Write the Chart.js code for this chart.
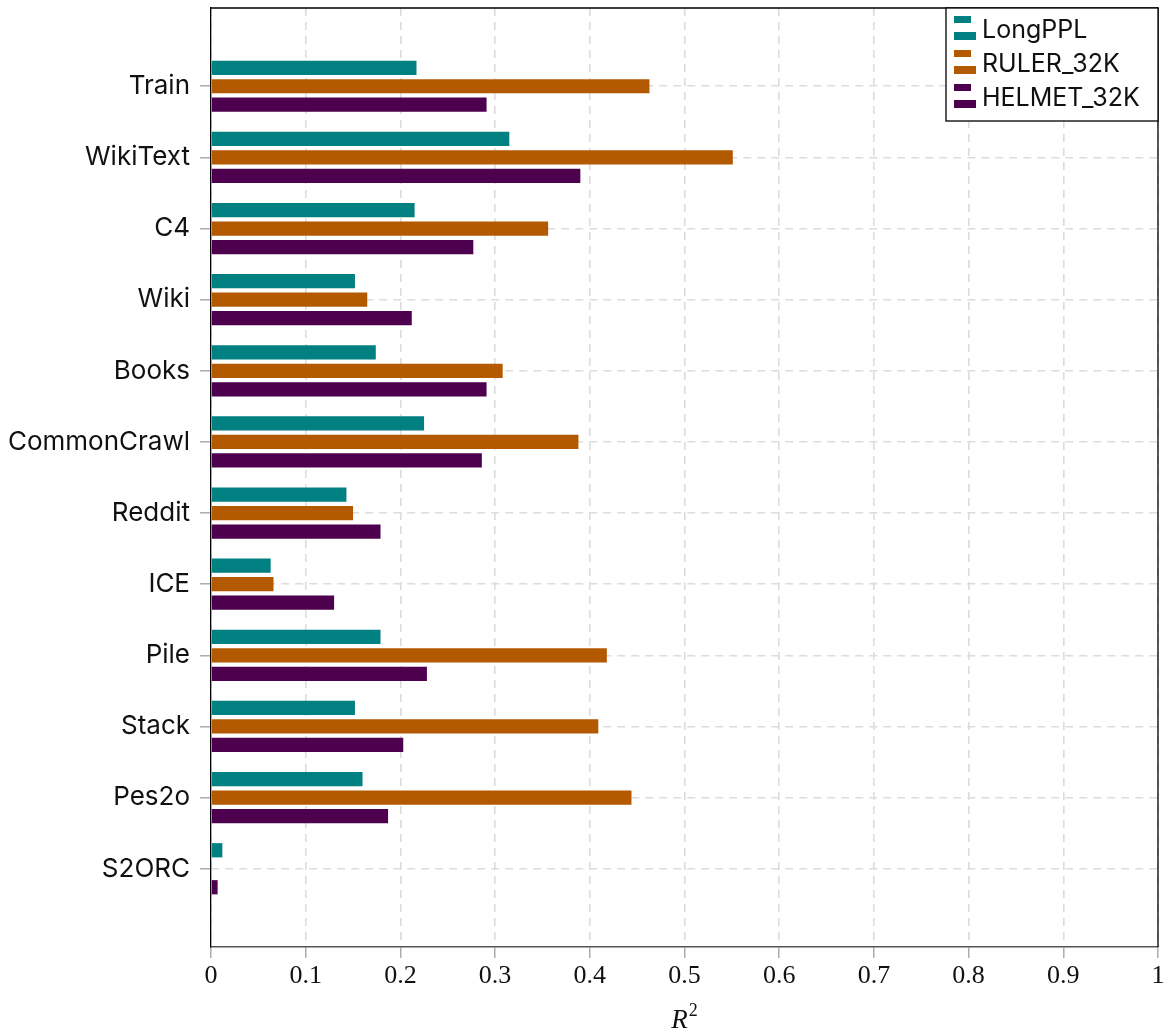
<!DOCTYPE html>
<html>
<head>
<meta charset="utf-8">
<script src="https://cdn.jsdelivr.net/npm/chart.js@4.4.0/dist/chart.umd.min.js"></script>
<style>
  html, body { margin: 0; padding: 0; background: #fff; }
  #wrap { width: 1169px; height: 1036px; }
</style>
</head>
<body>
<div id="wrap"><canvas id="chart" width="1169" height="1036"></canvas></div>
<script>
// data
var categories = ['Train', 'WikiText', 'C4', 'Wiki', 'Books', 'CommonCrawl', 'Reddit', 'ICE', 'Pile', 'Stack', 'Pes2o', 'S2ORC'];
var longPPL = [0.217, 0.315, 0.215, 0.152, 0.174, 0.225, 0.143, 0.063, 0.179, 0.152, 0.160, 0.012];
var ruler32k = [0.463, 0.551, 0.356, 0.165, 0.308, 0.388, 0.150, 0.066, 0.418, 0.409, 0.444, 0.0];
var helmet32k = [0.291, 0.390, 0.277, 0.212, 0.291, 0.286, 0.179, 0.130, 0.228, 0.203, 0.187, 0.007];
var seriesNames = ['LongPPL', 'RULER_32K', 'HELMET_32K'];
var xTicks = [0, 0.1, 0.2, 0.3, 0.4, 0.5, 0.6, 0.7, 0.8, 0.9, 1];

var colors = ['#008080', '#b35900', '#4d004d'];

// {x: 값, y: 카테고리 인덱스}
function toPoints(arr) {
  return arr.map(function (v, i) { return { x: v, y: i }; });
}

// 프레임(위, 오른쪽 테두리)
var framePlugin = {
  id: 'frame',
  afterDatasetsDraw: function (chart) {
    var a = chart.chartArea, ctx = chart.ctx;
    ctx.save();
    ctx.strokeStyle = '#000';
    ctx.lineWidth = 1.3;
    ctx.beginPath();
    ctx.moveTo(a.left, a.top);
    ctx.lineTo(a.right, a.top);
    ctx.lineTo(a.right, a.bottom);
    ctx.stroke();
    ctx.restore();
  }
};

// 범례 (차트 안쪽 오른쪽 위)
var legendPlugin = {
  id: 'innerLegend',
  afterDraw: function (chart) {
    var a = chart.chartArea, ctx = chart.ctx;
    var w = 212, h = 113;
    var x0 = a.right - w, y0 = a.top;
    ctx.save();
    ctx.fillStyle = '#fff';
    ctx.fillRect(x0, y0, w, h);
    ctx.strokeStyle = '#000';
    ctx.lineWidth = 1.3;
    ctx.strokeRect(x0, y0, w, h);
    ctx.font = '25px Inter';
    ctx.textBaseline = 'alphabetic';
    seriesNames.forEach(function (name, i) {
      var by = y0 + 8 + i * 34;
      ctx.fillStyle = colors[i];
      ctx.fillRect(x0 + 8, by, 17, 7);
      ctx.fillRect(x0 + 8, by + 16, 22, 8);
      ctx.fillStyle = '#111';
      ctx.fillText(name, x0 + 36, by + 22);
    });
    ctx.restore();
  }
};

// x축 제목 R^2
var xTitlePlugin = {
  id: 'xTitle',
  afterDraw: function (chart) {
    var a = chart.chartArea, ctx = chart.ctx;
    var cx = (a.left + a.right) / 2;
    ctx.save();
    ctx.fillStyle = '#111';
    ctx.textBaseline = 'alphabetic';
    ctx.font = 'italic 27px "Liberation Serif"';
    var wR = ctx.measureText('R').width;
    ctx.font = '18px "Liberation Serif"';
    var w2 = ctx.measureText('2').width;
    var x = cx - (wR + w2 + 1) / 2;
    ctx.font = 'italic 27px "Liberation Serif"';
    ctx.fillText('R', x, 1028);
    ctx.font = '18px "Liberation Serif"';
    ctx.fillText('2', x + wR + 1, 1016);
    ctx.restore();
  }
};

var ctx = document.getElementById('chart').getContext('2d');
new Chart(ctx, {
  type: 'bar',
  data: {
    datasets: [
      { label: seriesNames[0], data: toPoints(longPPL), backgroundColor: colors[0] },
      { label: seriesNames[1], data: toPoints(ruler32k), backgroundColor: colors[1] },
      { label: seriesNames[2], data: toPoints(helmet32k), backgroundColor: colors[2] }
    ]
  },
  options: {
    indexAxis: 'y',
    responsive: false,
    animation: false,
    devicePixelRatio: 1,
    categoryPercentage: 0.78,
    barPercentage: 0.77,
    layout: { padding: { top: 8, right: 11, left: 0, bottom: 0 } },
    plugins: {
      legend: { display: false },
      tooltip: { enabled: false }
    },
    scales: {
      x: {
        type: 'linear',
        min: 0,
        max: 1,
        afterBuildTicks: function (scale) {
          scale.ticks = xTicks.map(function (v) { return { value: v }; });
        },
        afterFit: function (scale) {
          scale.height = 89;
          scale.paddingLeft = 0;
          scale.paddingRight = 0;
        },
        ticks: {
          font: { family: 'Liberation Serif', size: 26 },
          color: '#111',
          padding: 3,
          maxRotation: 0,
          callback: function (v) {
            var r = Math.round(v * 10) / 10;
            return (r === 0 || r === 1) ? String(r) : r.toFixed(1);
          }
        },
        grid: {
          color: '#dcdcdc',
          lineWidth: 1.6,
          tickLength: 11,
          tickColor: '#a0a0a0',
          tickWidth: 1.3,
          tickBorderDash: []
        },
        border: { display: true, color: '#555', width: 1.5, dash: [8, 6] }
      },
      y: {
        type: 'linear',
        reverse: true,
        offset: false,
        min: -1.1,
        max: 12.1,
        afterBuildTicks: function (scale) {
          scale.ticks = categories.map(function (c, i) { return { value: i }; });
        },
        afterFit: function (scale) {
          scale.width = 211;
          scale.paddingTop = 0;
          scale.paddingBottom = 0;
        },
        ticks: {
          font: { family: 'Inter', size: 26 },
          color: '#111',
          padding: 10,
          autoSkip: false,
          callback: function (v) { return categories[v]; }
        },
        grid: {
          offset: false,
          color: '#dcdcdc',
          lineWidth: 1.6,
          tickLength: 11,
          tickColor: '#a0a0a0',
          tickWidth: 1.3,
          tickBorderDash: []
        },
        border: { display: true, color: '#000', width: 1.3, dash: [8, 6] }
      }
    }
  },
  plugins: [framePlugin, legendPlugin, xTitlePlugin]
});
</script>
</body>
</html>
